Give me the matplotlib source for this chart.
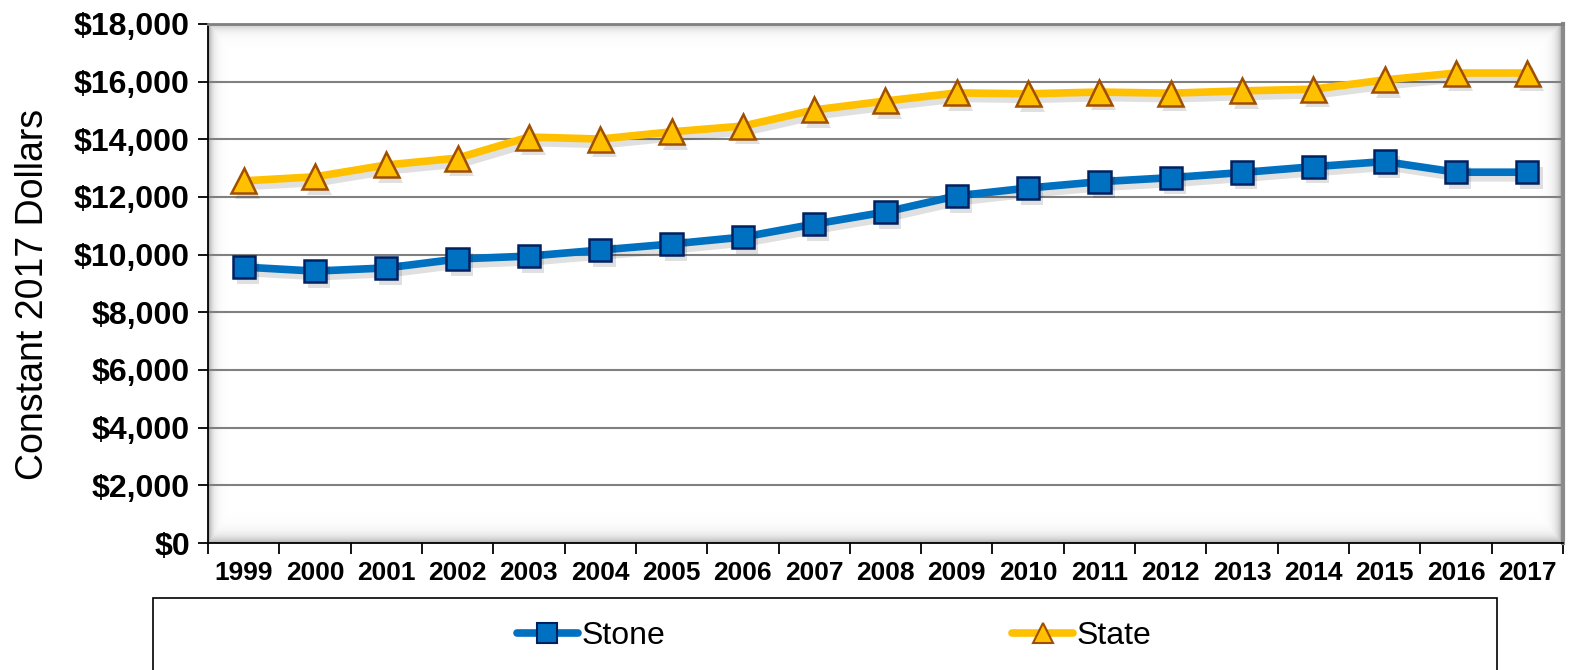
import numpy as np
import matplotlib
matplotlib.use("Agg")
import matplotlib.pyplot as plt
import matplotlib.patheffects as pe
from matplotlib.lines import Line2D
from matplotlib.patches import Rectangle
from matplotlib.ticker import FixedLocator, FuncFormatter

plt.rcParams['font.family'] = ['Liberation Sans', 'DejaVu Sans']

years = ["1999", "2000", "2001", "2002", "2003", "2004", "2005", "2006", "2007",
         "2008", "2009", "2010", "2011", "2012", "2013", "2014", "2015", "2016", "2017"]
stone = [9570, 9430, 9540, 9850, 9950, 10160, 10370, 10610, 11060, 11480,
         12040, 12310, 12530, 12670, 12850, 13050, 13230, 12860, 12860]
state = [12560, 12700, 13110, 13350, 14080, 14010, 14260, 14460, 15020, 15330,
         15610, 15580, 15640, 15600, 15680, 15740, 16060, 16300, 16300]

STONE_C, STONE_EDGE = "#0070C0", "#002060"
STATE_C, STATE_EDGE = "#FFC000", "#A04F00"

fig = plt.figure(figsize=(15.77, 6.70), dpi=100)
ax = fig.add_axes([208 / 1577, 1 - 543 / 670, 1355 / 1577, 519 / 670])

x = np.arange(len(years))

# inner shadow of the plot area (the Excel 3D look)
H, W = 519, 1355
yy, xx = np.mgrid[0:H, 0:W]
alpha = np.maximum.reduce([
    0.65 * np.exp(-xx / 4.0),
    0.45 * np.exp(-yy / 5.0),
    0.55 * np.exp(-(H - 1 - yy) / 6.0),
    0.70 * np.exp(-(W - 1 - xx) / 5.0),
])
shade = np.zeros((H, W, 4))
shade[..., :3] = 0.45
shade[..., 3] = alpha
ax.imshow(shade, extent=(0, 1, 0, 1), transform=ax.transAxes, aspect="auto",
          zorder=0.5, interpolation="bilinear")

for yv in range(2000, 18001, 2000):
    ax.axhline(yv, color="#808080", lw=1.5, zorder=1)

shadow_line = [pe.SimpleLineShadow(offset=(3, -4), shadow_color="black", alpha=0.12), pe.Normal()]
shadow_mark = [pe.SimplePatchShadow(offset=(3, -4), shadow_rgbFace="black", alpha=0.12), pe.Normal()]

ax.plot(x, stone, color=STONE_C, lw=5.5, zorder=3, path_effects=shadow_line)
ax.plot(x, stone, ls="none", marker="s", ms=16, mfc=STONE_C, mec=STONE_EDGE,
        mew=1.8, zorder=4, path_effects=shadow_mark)
ax.plot(x, state, color=STATE_C, lw=5.5, zorder=3, path_effects=shadow_line)
ax.plot(x, state, ls="none", marker="^", ms=18, mfc=STATE_C, mec=STATE_EDGE,
        mew=1.8, zorder=4, path_effects=shadow_mark)

ax.set_xlim(-0.5, len(years) - 0.5)
ax.set_ylim(0, 18000)

ax.yaxis.set_major_locator(FixedLocator(range(0, 18001, 2000)))
ax.yaxis.set_major_formatter(FuncFormatter(lambda v, p: f"${v:,.0f}"))
ax.tick_params(axis="y", direction="out", length=7, width=1.3, pad=6,
               labelsize=23)
for t in ax.get_yticklabels():
    t.set_fontweight("bold")

# ticks on category boundaries, labels in the middle of each category
ax.xaxis.set_major_locator(FixedLocator(np.arange(-0.5, len(years), 1.0)))
ax.xaxis.set_major_formatter(FuncFormatter(lambda v, p: ""))
ax.xaxis.set_minor_locator(FixedLocator(x))
ax.set_xticklabels(years, minor=True)
ax.tick_params(axis="x", which="major", direction="out", length=8, width=1.3)
ax.tick_params(axis="x", which="minor", length=0, pad=13, labelsize=19)
for t in ax.get_xticklabels(minor=True):
    t.set_fontweight("bold")

ax.spines["left"].set_color("black")
ax.spines["left"].set_linewidth(1.3)
ax.spines["bottom"].set_color("black")
ax.spines["bottom"].set_linewidth(1.3)
ax.spines["top"].set_color("#808080")
ax.spines["top"].set_linewidth(2)
ax.spines["right"].set_color("#8a8a8a")
ax.spines["right"].set_linewidth(3)
for s in ax.spines.values():
    s.set_zorder(5)

fig.text(33 / 1577, 1 - 294 / 670, "Constant 2017 Dollars", rotation=90,
         ha="center", va="center", fontsize=27)

# legend box (runs off the bottom of the figure)
fig.patches.append(Rectangle((153 / 1577, -0.05), 1344 / 1577, 0.05 + 72 / 670,
                             transform=fig.transFigure, fill=False,
                             edgecolor="black", lw=1.2))
handles = [
    Line2D([], [], color=STONE_C, lw=5.5, marker="s", ms=14, mfc=STONE_C,
           mec=STONE_EDGE, mew=1.5, solid_capstyle="round"),
    Line2D([], [], color=STATE_C, lw=5.5, marker="^", ms=15, mfc=STATE_C,
           mec=STATE_EDGE, mew=1.5, solid_capstyle="round"),
]
leg_size = 23
fig.legend(handles, ["Stone", "State"], loc="center",
           bbox_to_anchor=(834 / 1577, 1 - 636 / 670), ncol=2, frameon=False,
           prop={"size": leg_size},
           handlelength=2.2 * 20 / leg_size, handletextpad=0.1,
           columnspacing=12.5 * 20 / leg_size, borderpad=0)

fig.savefig("out.png", dpi=100)
